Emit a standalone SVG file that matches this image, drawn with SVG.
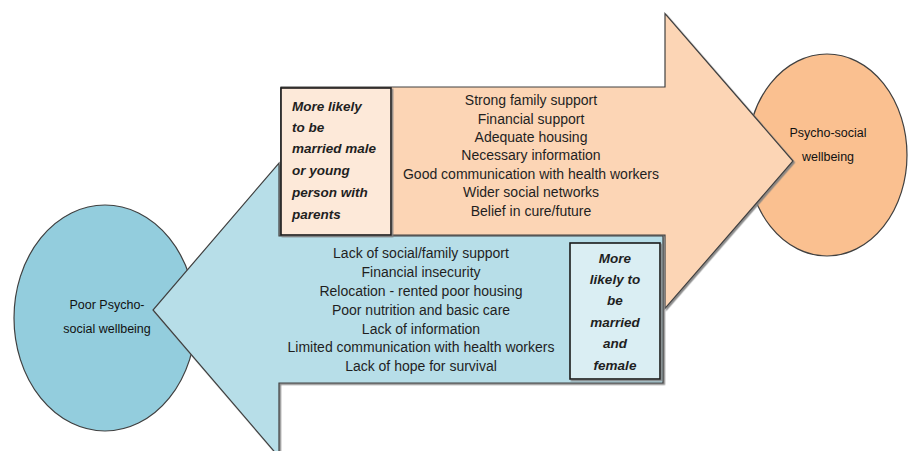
<svg xmlns="http://www.w3.org/2000/svg" width="908" height="451" viewBox="0 0 908 451">
<defs>
<filter id="sh" x="-5%" y="-5%" width="110%" height="110%">
<feDropShadow dx="1.5" dy="1.5" stdDeviation="0.7" flood-color="#7f7f7f" flood-opacity="0.9"/>
</filter>
<style>
.ln{font-family:"Liberation Sans",Arial,sans-serif;font-size:14px;fill:#1f1f1f;text-anchor:middle}
.bx{font-family:"Liberation Sans",Arial,sans-serif;font-size:13.5px;font-weight:bold;font-style:italic;fill:#1f1f1f}
.ct{font-family:"Liberation Sans",Arial,sans-serif;font-size:12.5px;fill:#111;text-anchor:middle}
.edge{stroke:#404040;stroke-width:1.2}
.box{stroke:#1a1a1a;stroke-width:1.6}
</style>
</defs>
<rect width="908" height="451" fill="#ffffff"/>
<g id="node-good">
<ellipse cx="827" cy="155" rx="80" ry="101" fill="#fac090" class="edge"/>
<text class="ct" x="828" y="137">Psycho-social</text>
<text class="ct" x="828" y="161">wellbeing</text>
</g>
<g id="node-poor">
<ellipse cx="105" cy="318" rx="91" ry="113" fill="#93cddd" class="edge"/>
<text class="ct" x="107" y="309" font-size="13">Poor Psycho-</text>
<text class="ct" x="107" y="333" font-size="13">social wellbeing</text>
</g>
<g id="connectors">
<polygon id="arrow-positive" points="281,87 665,87 665,13.5 793,161 665,308.5 665,235 281,235" fill="#fcd5b5" class="edge" filter="url(#sh)"/>
<polygon id="arrow-negative" points="663,236 279,236 279,163 153,310 279,457 279,383 663,383" fill="#b7dee8" class="edge" filter="url(#sh)"/>
</g>
<g id="node-positive-factors">
<text class="ln" x="531" y="105">Strong family support</text>
<text class="ln" x="531" y="124">Financial support</text>
<text class="ln" x="531" y="142">Adequate housing</text>
<text class="ln" x="531" y="160">Necessary information</text>
<text class="ln" x="531" y="179">Good communication with health workers</text>
<text class="ln" x="531" y="197">Wider social networks</text>
<text class="ln" x="531" y="216">Belief in cure/future</text>
</g>
<g id="node-male-box">
<rect x="281" y="88" width="110" height="147" fill="#fde9d9" class="box" filter="url(#sh)"/>
<text class="bx" x="292" y="111">More likely</text>
<text class="bx" x="292" y="132">to be</text>
<text class="bx" x="292" y="153">married male</text>
<text class="bx" x="292" y="175">or young</text>
<text class="bx" x="292" y="197">person with</text>
<text class="bx" x="292" y="219">parents</text>
</g>
<g id="node-negative-factors">
<text class="ln" x="421" y="258">Lack of social/family support</text>
<text class="ln" x="421" y="277">Financial insecurity</text>
<text class="ln" x="421" y="296">Relocation - rented poor housing</text>
<text class="ln" x="421" y="315">Poor nutrition and basic care</text>
<text class="ln" x="421" y="334">Lack of information</text>
<text class="ln" x="421" y="352">Limited communication with health workers</text>
<text class="ln" x="421" y="371">Lack of hope for survival</text>
</g>
<g id="node-female-box">
<rect x="570" y="243" width="90" height="136" fill="#daeef3" class="box" filter="url(#sh)"/>
<text class="bx" x="615" y="263" text-anchor="middle">More</text>
<text class="bx" x="615" y="284" text-anchor="middle">likely to</text>
<text class="bx" x="615" y="305" text-anchor="middle">be</text>
<text class="bx" x="615" y="327" text-anchor="middle">married</text>
<text class="bx" x="615" y="348" text-anchor="middle">and</text>
<text class="bx" x="615" y="370" text-anchor="middle">female</text>
</g>
</svg>
